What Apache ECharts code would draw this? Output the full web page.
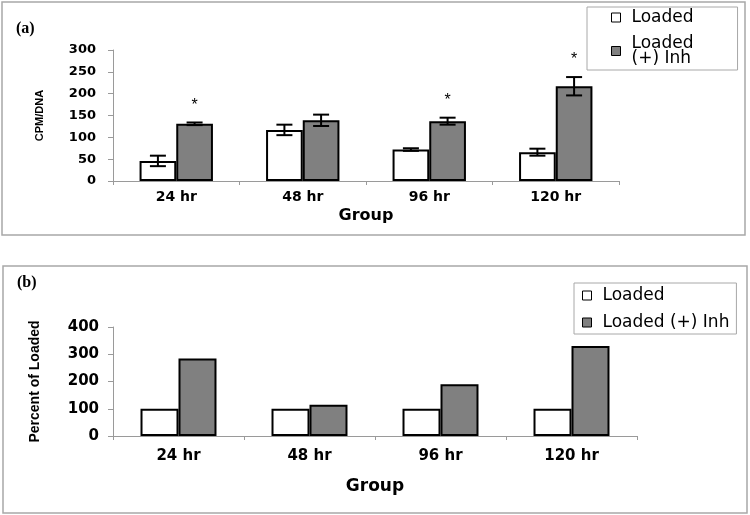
<!DOCTYPE html>
<html>
<head>
<meta charset="utf-8">
<script src="https://cdn.jsdelivr.net/npm/echarts@6/dist/echarts.min.js"></script>
<style>html,body{margin:0;padding:0;background:#fff}#c{width:750px;height:515px}</style>
</head>
<body>
<div id="c"></div>
<script>
var categories = ['24 hr', '48 hr', '96 hr', '120 hr'];
var seriesNames = ['Loaded', 'Loaded (+) Inh'];
var loadedCpm = [46, 117, 72, 66];
var loadedCpmErr = [12, 12, 3, 8];
var inhCpm = [131, 139, 137, 217];
var inhCpmErr = [3, 13, 8, 21];
var significant = [true, false, true, true];
var loadedPct = [100, 100, 100, 100];
var inhPct = [284, 115, 190, 330];
var cpmTicks = {min: 0, max: 300, interval: 50};
var pctTicks = {min: 0, max: 400, interval: 100};

var FONT = 'DejaVu Sans';
var GRAY = '#808080';
var AXIS = '#9a9a9a';

function errData(vals, errs, flagSig) {
  return vals.map(function (v, i) { return [i, v - errs[i], v + errs[i], flagSig && significant[i] ? 1 : 0]; });
}
function errRender(sign) {
  return function (params, api) {
    var band = api.size([1, 0])[0];
    var off = sign * band * 0.145;
    var lo = api.coord([api.value(0), api.value(1)]);
    var hi = api.coord([api.value(0), api.value(2)]);
    var x = lo[0] + off;
    var cap = 8;
    var st = {stroke: '#000', lineWidth: 2};
    var children = [
      {type: 'line', shape: {x1: x, y1: lo[1], x2: x, y2: hi[1]}, style: st},
      {type: 'line', shape: {x1: x - cap, y1: lo[1], x2: x + cap, y2: lo[1]}, style: st},
      {type: 'line', shape: {x1: x - cap, y1: hi[1], x2: x + cap, y2: hi[1]}, style: st}
    ];
    if (api.value(3) === 1) {
      children.push({type: 'text', style: {text: '*', x: x, y: hi[1] - 17, align: 'center', verticalAlign: 'middle', fontSize: 16, fontFamily: 'Liberation Sans', fill: '#000'}});
    }
    return {type: 'group', children: children};
  };
}

var chart = echarts.init(document.getElementById('c'), null, {renderer: 'canvas'});
var yLabel = function (size) { return {fontFamily: FONT, fontWeight: 'bold', fontSize: size, color: '#000'}; };
var barStyle = function (c) { return {color: c, borderColor: '#000', borderWidth: 2, borderRadius: 0, borderJoin: 'miter'}; };

var option = {
  animation: false,
  backgroundColor: '#fff',
  title: [
    {text: '(a)', left: 11, top: 16, textStyle: {fontFamily: 'Liberation Serif', fontWeight: 'bold', fontSize: 16, color: '#000'}},
    {text: '(b)', left: 12, top: 270, textStyle: {fontFamily: 'Liberation Serif', fontWeight: 'bold', fontSize: 16, color: '#000'}}
  ],
  graphic: [
    {type: 'rect', shape: {x: 2, y: 2, width: 743, height: 233}, style: {fill: 'none', stroke: '#a8a8a8', lineWidth: 1.5}, silent: true},
    {type: 'rect', shape: {x: 3, y: 266, width: 744, height: 247}, style: {fill: 'none', stroke: '#a8a8a8', lineWidth: 1.5}, silent: true}
  ],
  legend: [
    {
      orient: 'vertical', left: 587, top: 7, itemWidth: 9, itemHeight: 9, itemGap: 9, icon: 'rect',
      padding: [2, 44, 3, 24],
      borderColor: '#a8a8a8', borderWidth: 1, backgroundColor: '#fff',
      data: seriesNames,
      formatter: function (n) { return n === 'Loaded (+) Inh' ? 'Loaded\n(+) Inh' : n; },
      textStyle: {fontFamily: FONT, fontSize: 17, color: '#000', lineHeight: 15, align: 'center', padding: [0, 0, 0, 6]},
      itemStyle: {borderWidth: 1, borderColor: '#000'}
    },
    {
      orient: 'vertical', left: 574, top: 283, itemWidth: 9, itemHeight: 9, itemGap: 10, icon: 'rect',
      padding: [4, 7, 3, 8],
      borderColor: '#a8a8a8', borderWidth: 1, backgroundColor: '#fff',
      data: seriesNames,
      textStyle: {fontFamily: FONT, fontSize: 17, color: '#000', lineHeight: 17, padding: [0, 0, 0, 6]},
      itemStyle: {borderWidth: 1, borderColor: '#000'}
    }
  ],
  grid: [
    {left: 113, right: 131, top: 50, bottom: 334},
    {left: 113, right: 113, top: 327, bottom: 79}
  ],
  xAxis: [
    {
      type: 'category', gridIndex: 0, data: categories,
      name: 'Group', nameLocation: 'middle', nameGap: 27,
      nameTextStyle: {fontFamily: FONT, fontWeight: 'bold', fontSize: 16, color: '#000'},
      axisLine: {lineStyle: {color: AXIS, width: 1}},
      axisTick: {show: true, length: 4, lineStyle: {color: AXIS}},
      axisLabel: {margin: 9, fontFamily: FONT, fontWeight: 'bold', fontSize: 14, color: '#000'}
    },
    {
      type: 'category', gridIndex: 1, data: categories,
      name: 'Group', nameLocation: 'middle', nameGap: 42,
      nameTextStyle: {fontFamily: FONT, fontWeight: 'bold', fontSize: 17, color: '#000'},
      axisLine: {lineStyle: {color: AXIS, width: 1}},
      axisTick: {show: true, length: 4, lineStyle: {color: AXIS}},
      axisLabel: {margin: 13, fontFamily: FONT, fontWeight: 'bold', fontSize: 15, color: '#000'}
    }
  ],
  yAxis: [
    {
      type: 'value', gridIndex: 0, min: cpmTicks.min, max: cpmTicks.max, interval: cpmTicks.interval,
      name: 'CPM/DNA', nameLocation: 'middle', nameRotate: 90, nameGap: 68,
      nameTextStyle: {fontFamily: 'Liberation Sans', fontWeight: 'bold', fontSize: 11, color: '#000'},
      axisLine: {show: true, lineStyle: {color: AXIS, width: 1}},
      axisTick: {show: true, length: 5, lineStyle: {color: AXIS}},
      splitLine: {show: false},
      axisLabel: Object.assign({margin: 17}, yLabel(13))
    },
    {
      type: 'value', gridIndex: 1, min: pctTicks.min, max: pctTicks.max, interval: pctTicks.interval,
      name: 'Percent of Loaded', nameLocation: 'middle', nameRotate: 90, nameGap: 71,
      nameTextStyle: {fontFamily: 'Liberation Sans', fontWeight: 'bold', fontSize: 14, color: '#000'},
      axisLine: {show: true, lineStyle: {color: AXIS, width: 1}},
      axisTick: {show: true, length: 5, lineStyle: {color: AXIS}},
      splitLine: {show: false},
      axisLabel: Object.assign({margin: 14}, yLabel(15))
    }
  ],
  series: [
    {name: 'Loaded', type: 'bar', xAxisIndex: 0, yAxisIndex: 0, data: loadedCpm, barWidth: '29%', barGap: '0%', itemStyle: barStyle('#fff')},
    {name: 'Loaded (+) Inh', type: 'bar', xAxisIndex: 0, yAxisIndex: 0, data: inhCpm, barWidth: '29%', barGap: '0%', itemStyle: barStyle(GRAY)},
    {name: 'Loaded', type: 'bar', xAxisIndex: 1, yAxisIndex: 1, data: loadedPct, barWidth: '29%', barGap: '0%', itemStyle: barStyle('#fff')},
    {name: 'Loaded (+) Inh', type: 'bar', xAxisIndex: 1, yAxisIndex: 1, data: inhPct, barWidth: '29%', barGap: '0%', itemStyle: barStyle(GRAY)},
    {type: 'custom', xAxisIndex: 0, yAxisIndex: 0, data: errData(loadedCpm, loadedCpmErr, false), renderItem: errRender(-1), z: 5,
      encode: {x: 0, y: [1, 2]}},
    {type: 'custom', xAxisIndex: 0, yAxisIndex: 0, data: errData(inhCpm, inhCpmErr, true), renderItem: errRender(1), z: 5,
      encode: {x: 0, y: [1, 2]}}
  ]
};
chart.setOption(option);
</script>
</body>
</html>
